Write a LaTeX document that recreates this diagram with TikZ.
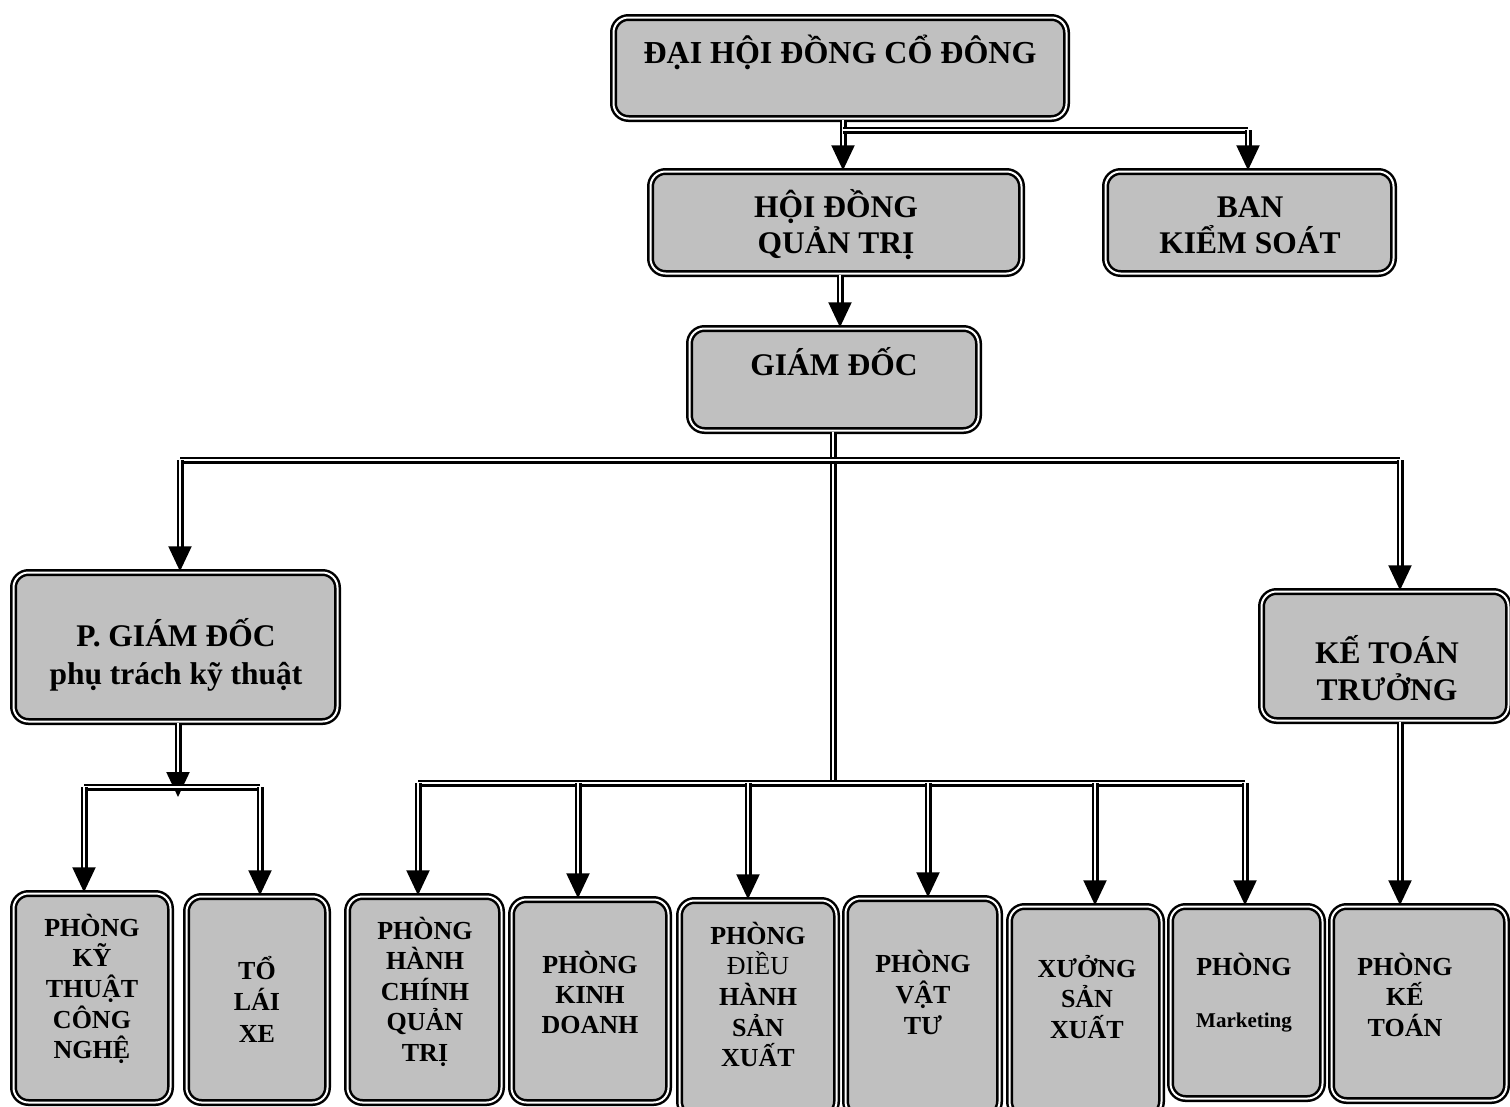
\documentclass[tikz,border=0pt]{standalone}
\usepackage{fontspec}
\setmainfont{Liberation Serif}
\usetikzlibrary{arrows.meta}
\definecolor{boxgray}{HTML}{C0C0C0}
\newcommand{\boxtext}[4]{\parbox[t]{#1pt}{\centering\fontsize{#2pt}{#3pt}\selectfont\bfseries #4}}
\begin{document}
\begin{tikzpicture}[x=1pt,y=-1pt,
  box/.style={draw=black, double=white, double distance=2pt, line width=2.5pt,
    fill=boxgray, rounded corners=15pt, inner sep=0pt},
  txt/.style={anchor=base, inner sep=0pt},
  dl/.style={draw=black, double=white, double distance=2.6pt, line width=2.2pt},
  conn/.style={dl, -{Triangle[length=25pt,width=23pt]}}]
\clip (0,0) rectangle (1510,1106);
\fill[white] (0,0) rectangle (1510,1106);
% boxes
\node[box, minimum width=453pt, minimum height=101pt] (A) at (840,68) {};
\node[box, minimum width=371pt, minimum height=102pt] (B) at (836,222.5) {};
\node[box, minimum width=288pt, minimum height=102pt] (C) at (1249.5,222.5) {};
\node[box, minimum width=289pt, minimum height=102pt] (D) at (834,379.5) {};
\node[box, minimum width=324pt, minimum height=149pt] (E) at (175.5,647) {};
\node[box, minimum width=247pt, minimum height=129pt] (F) at (1385,656) {};
\node[box, minimum width=157pt, minimum height=209pt] (G1) at (92,998) {};
\node[box, minimum width=141pt, minimum height=206pt] (G2) at (257,999.5) {};
\node[box, minimum width=154pt, minimum height=206pt] (G3) at (424.5,999.5) {};
\node[box, minimum width=157pt, minimum height=203pt] (G4) at (590,1001) {};
\node[box, minimum width=157pt, minimum height=216pt] (G5) at (758,1008.5) {};
\node[box, minimum width=154pt, minimum height=218pt] (G6) at (922.5,1007.5) {};
\node[box, minimum width=152pt, minimum height=210pt] (G7) at (1085.5,1011.5) {};
\node[box, minimum width=152pt, minimum height=192pt] (G8) at (1246.5,1002.5) {};
\node[box, minimum width=175pt, minimum height=194pt] (G9) at (1419,1003.5) {};
% texts
\node[txt] (tA) at (840,63) {\boxtext{440}{32}{38}{ĐẠI HỘI ĐỒNG CỔ ĐÔNG}};
\node[txt] (tB) at (836,217) {\boxtext{340}{31.5}{36}{HỘI ĐỒNG\\QUẢN TRỊ}};
\node[txt] (tC) at (1250,217) {\boxtext{270}{31.5}{36}{BAN\\KIỂM SOÁT}};
\node[txt] (tD) at (834,375) {\boxtext{270}{31.5}{36}{GIÁM ĐỐC}};
\node[txt] (tE) at (176,646) {\boxtext{310}{31.5}{38}{P. GIÁM ĐỐC\\phụ trách kỹ thuật}};
\node[txt] (tF) at (1387,663) {\boxtext{230}{31.5}{37}{KẾ TOÁN\\TRƯỞNG}};
\node[txt] (tG1) at (92,936) {\boxtext{150}{26}{30.7}{PHÒNG\\KỸ\\THUẬT\\CÔNG\\NGHỆ}};
\node[txt] (tG2) at (257,979) {\boxtext{135}{26}{31.5}{TỔ\\LÁI\\XE}};
\node[txt] (tG3) at (425,939) {\boxtext{150}{26}{30.5}{PHÒNG\\HÀNH\\CHÍNH\\QUẢN\\TRỊ}};
\node[txt] (tG4) at (590,973) {\boxtext{150}{26}{30}{PHÒNG\\KINH\\DOANH}};
\node[txt] (tG5) at (758,944) {\boxtext{150}{26}{30.7}{PHÒNG\\{\mdseries ĐIỀU}\\HÀNH\\SẢN\\XUẤT}};
\node[txt] (tG6) at (923,972) {\boxtext{150}{26}{31}{PHÒNG\\VẬT\\TƯ}};
\node[txt] (tG7) at (1087,977) {\boxtext{150}{26}{30.5}{XƯỞNG\\SẢN\\XUẤT}};
\node[txt] (tG8) at (1244,975) {\boxtext{150}{26}{30}{PHÒNG}};
\node[txt] (tG8b) at (1244,1027) {\boxtext{150}{21}{24}{Marketing}};
\node[txt] (tG9) at (1405,975) {\boxtext{170}{26}{30.5}{PHÒNG\\KẾ\\TOÁN}};
% junction coordinates
\coordinate (j1) at (843,130);
\coordinate (jc) at (1248,130);
\coordinate (tl) at (180,460);
\coordinate (tr) at (1400,460);
\coordinate (bm) at (833,783);
\coordinate (b3) at (418,783);
\coordinate (b4) at (578,783);
\coordinate (b5) at (748,783);
\coordinate (b6) at (928,783);
\coordinate (b7) at (1095,783);
\coordinate (b8) at (1245,783);
\coordinate (pm) at (178,797);
\coordinate (p1) at (84,787);
\coordinate (p2) at (260,787);
% connectors
\draw[conn] (j1 |- A.south) -- (j1 |- B.north);
\draw[dl] (j1) -- (jc);
\draw[conn] (jc) -- (jc |- C.north);
\draw[conn] (B.south -| 840,0) -- (D.north -| 840,0);
\draw[dl] (D.south -| bm) -- (bm);
\draw[dl] (tl) -- (tr);
\draw[conn] (tl) -- (tl |- E.north);
\draw[conn] (tr) -- (tr |- F.north);
\draw[dl] (b3) -- (b8);
\draw[conn] (b3) -- (b3 |- G3.north);
\draw[conn] (b4) -- (b4 |- G4.north);
\draw[conn] (b5) -- (b5 |- G5.north);
\draw[conn] (b6) -- (b6 |- G6.north);
\draw[conn] (b7) -- (b7 |- G7.north);
\draw[conn] (b8) -- (b8 |- G8.north);
\draw[conn] (pm |- E.south) -- (pm);
\draw[dl] (p1) -- (p2);
\draw[conn] (p1) -- (p1 |- G1.north);
\draw[conn] (p2) -- (p2 |- G2.north);
\draw[conn] (tr |- F.south) -- (tr |- G9.north);
\end{tikzpicture}
\end{document}
